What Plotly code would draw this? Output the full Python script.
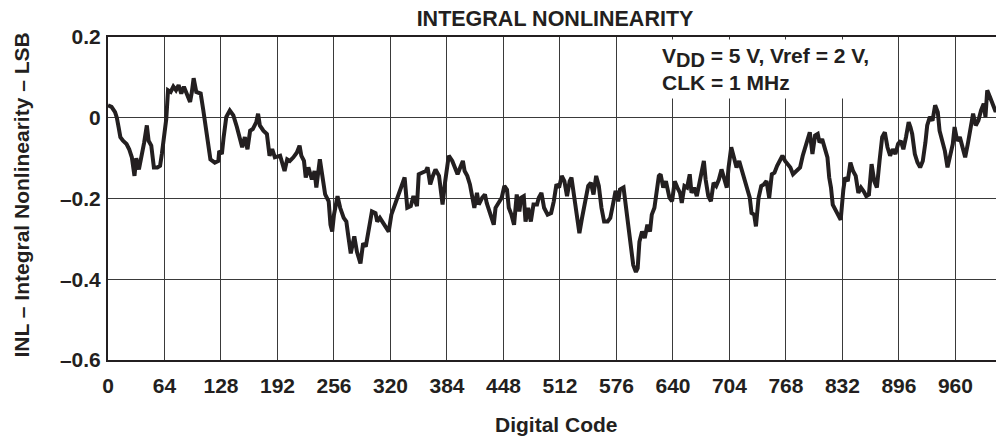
import plotly.graph_objects as go

# Digital code (x) and INL in LSB (y)
digital_code = [
    0, 4, 8, 10, 12, 14, 17, 21, 24, 27, 30, 32, 35, 38, 41, 44, 46, 49, 52, 56,
    59, 61, 64, 66, 68, 71, 74, 77, 80, 83, 86, 89, 93, 95, 97, 100, 105, 108, 111, 114,
    116, 121, 125, 126, 129, 131, 134, 138, 142, 146, 149, 152, 155, 158, 161, 164, 168, 170, 172, 176,
    180, 183, 186, 189,
    195, 198, 200, 203, 206, 210, 214, 217, 219, 222, 224, 227, 231, 234, 236, 240, 243, 246, 250, 252,
    254, 256, 260, 263, 267, 270, 272, 275, 279, 282, 286, 289, 292, 295, 299, 303, 305, 308, 313, 318,
    321, 325, 329, 333, 336, 339, 343, 346, 350, 352, 356, 360, 362, 365, 368, 371, 375, 377, 379, 382,
    386, 390,
    393, 396, 399, 402, 404, 407, 410, 412, 415, 418, 420, 424, 427, 429, 433, 437, 439, 442, 446, 449,
    452, 454, 457, 460, 463, 466, 468, 471, 473, 476, 479, 482, 486, 488, 491, 494, 498, 502, 505, 508,
    511, 514, 517, 520, 523, 525, 528, 531, 534, 537, 540, 544, 547, 550, 553, 556, 559, 562, 566, 569,
    572, 575, 578, 580, 584, 586, 589, 592,
    595, 598, 600, 602, 605, 608, 611, 614, 616, 619, 622, 624, 626, 629, 632, 636, 639, 642, 645, 648,
    650, 653, 656, 659, 661, 664, 667, 670, 673, 675, 677, 680, 683, 686, 689, 692, 695, 698, 701, 703,
    706, 709, 712, 715, 718, 721, 724, 727, 729, 732, 734, 737, 740, 743, 746, 749, 752, 755, 758, 761,
    764, 767, 770, 773, 776, 780, 784, 787, 790, 792, 795, 798,
    801, 804, 806, 809, 812, 815, 817, 819, 821, 824, 827, 830, 833, 835, 838, 841, 844, 847, 850, 853,
    856, 859, 862, 865, 868, 871, 874, 877, 880, 883, 886, 889, 892, 895, 898, 901, 904, 907, 909, 911,
    914, 917, 920, 923, 926, 928, 931, 934, 937, 940, 942, 945, 948, 951, 954, 957, 959, 962, 965, 968,
    971, 974, 977, 980, 983, 986, 989, 992, 994, 996, 999, 1002, 1005, 1008, 1011, 1014,
]
inl_lsb = [
    0.031, 0.027, 0.014, 0.0, -0.023, -0.048, -0.057, -0.065, -0.078, -0.098,
    -0.144, -0.100, -0.128, -0.098, -0.061, -0.019, -0.057, -0.069, -0.123, -0.123,
    -0.119, -0.090, -0.023, -0.003, 0.068, 0.064, 0.077, 0.068, 0.081, 0.060,
    0.077, 0.060, 0.039, 0.064, 0.098, 0.064, 0.060, 0.018, -0.023, -0.065,
    -0.103, -0.111, -0.107, -0.082, -0.090, -0.048, 0.002, 0.018, 0.006, -0.023,
    -0.044, -0.073, -0.048, -0.078, -0.032, -0.028, -0.011, 0.010, -0.019, -0.032,
    -0.040, -0.094, -0.078, -0.098,
    -0.094, -0.123, -0.132, -0.103, -0.107, -0.098, -0.086, -0.069, -0.094, -0.107,
    -0.148, -0.123, -0.153, -0.132, -0.173, -0.103, -0.144, -0.190, -0.207, -0.265,
    -0.282, -0.240, -0.194, -0.223, -0.248, -0.257, -0.290, -0.336, -0.294, -0.332,
    -0.361, -0.311, -0.319, -0.282, -0.232, -0.236, -0.257, -0.248, -0.265, -0.282,
    -0.240, -0.215, -0.194, -0.165, -0.148, -0.223, -0.219, -0.194, -0.219, -0.140,
    -0.136, -0.132, -0.123, -0.165, -0.144, -0.128, -0.144, -0.173, -0.215, -0.157,
    -0.094, -0.107,
    -0.123, -0.140, -0.123, -0.107, -0.132, -0.144, -0.165, -0.190, -0.223, -0.186,
    -0.215, -0.198, -0.190, -0.211, -0.240, -0.265, -0.223, -0.211, -0.198, -0.169,
    -0.178, -0.223, -0.240, -0.265, -0.190, -0.232, -0.198, -0.194, -0.257, -0.223,
    -0.257, -0.215, -0.215, -0.198, -0.186, -0.223, -0.240, -0.236, -0.207, -0.165,
    -0.173, -0.144, -0.157, -0.194, -0.157, -0.148, -0.190, -0.240, -0.286, -0.248,
    -0.215, -0.169, -0.161, -0.190, -0.144, -0.169, -0.223, -0.257, -0.257, -0.248,
    -0.215, -0.181, -0.207, -0.178, -0.173, -0.207, -0.265, -0.307,
    -0.365, -0.382, -0.373, -0.307, -0.282, -0.298, -0.265, -0.282, -0.240, -0.223,
    -0.181, -0.144, -0.140, -0.173, -0.157, -0.198, -0.207, -0.157, -0.173, -0.186,
    -0.211, -0.169, -0.173, -0.140, -0.186, -0.173, -0.194, -0.157, -0.132, -0.107,
    -0.153, -0.194, -0.207, -0.161, -0.169, -0.153, -0.128, -0.153, -0.173, -0.123,
    -0.073, -0.098, -0.123, -0.107, -0.132, -0.157, -0.173, -0.198, -0.236, -0.240,
    -0.269, -0.198, -0.169, -0.165, -0.157, -0.198, -0.140, -0.136, -0.119, -0.107,
    -0.094, -0.107, -0.115, -0.123, -0.140, -0.132, -0.123, -0.094, -0.069, -0.057,
    -0.036, -0.090,
    -0.044, -0.040, -0.061, -0.053, -0.073, -0.098, -0.148, -0.173, -0.215, -0.228,
    -0.236, -0.253, -0.178, -0.148, -0.157, -0.111, -0.132, -0.144, -0.186, -0.173,
    -0.182, -0.194, -0.190, -0.115, -0.157, -0.173, -0.107, -0.048, -0.036, -0.073,
    -0.094, -0.078, -0.090, -0.065, -0.057, -0.078, -0.048, -0.011, -0.023, -0.040,
    -0.090, -0.111, -0.123, -0.107, -0.061, -0.019, 0.002, -0.007, 0.031, 0.014,
    -0.032, -0.057, -0.082, -0.123, -0.098, -0.065, -0.023, -0.057, -0.048, -0.073,
    -0.098, -0.065, -0.032, 0.010, -0.019, -0.007, 0.018, 0.035, 0.002, 0.068,
    0.052, 0.035, 0.018, 0.018, 0.006, -0.007,
]

x_ticks = [0, 64, 128, 192, 256, 320, 384, 448, 512, 576, 640, 704, 768, 832, 896, 960]
x_tick_labels = [str(v) for v in x_ticks]
y_ticks = [-0.6, -0.4, -0.2, 0, 0.2]
y_tick_labels = ["\u20130.6", "\u20130.4", "\u20130.2", "0", "0.2"]

FONT = "Liberation Sans, Arial, Helvetica, sans-serif"
INK = "#231f20"
FS = 21

# The page body adds an 8 px offset; figure coords = reference coords - 8.
W, H = 996, 432
L, T = 100, 29
PLOT_W, PLOT_H = W - L, 323
B = H - T - PLOT_H


def px_x(ref_x):
    return (ref_x - 8 - L) / PLOT_W


def px_y(ref_y):
    return (T + PLOT_H - (ref_y - 8)) / PLOT_H


fig = go.Figure(
    go.Scatter(
        x=digital_code, y=inl_lsb, mode="lines",
        line=dict(color=INK, width=4), hoverinfo="skip",
    )
)

fig.update_layout(
    width=W, height=H,
    margin=dict(l=L, r=0, t=T, b=B),
    paper_bgcolor="white", plot_bgcolor="white",
    showlegend=False,
    font=dict(family=FONT, color=INK, size=FS, weight="bold"),
    title=dict(
        text="INTEGRAL NONLINEARITY",
        font=dict(family=FONT, size=21.5, color=INK, weight="bold"),
        x=(555 - 8) / W, xref="container", xanchor="center",
        y=1 - (18 - 8) / H, yref="container", yanchor="middle",
    ),
    xaxis=dict(
        range=[0, 1015], tickvals=x_ticks, ticktext=x_tick_labels,
        showgrid=True, gridcolor="#3a3a3a", gridwidth=1,
        showline=True, linecolor=INK, linewidth=2, mirror=True,
        zeroline=False, ticks="", ticklabelstandoff=6,
        tickfont=dict(family=FONT, size=FS, color=INK, weight="bold"),
    ),
    yaxis=dict(
        range=[-0.6, 0.2], tickvals=y_ticks, ticktext=y_tick_labels,
        showgrid=True, gridcolor="#3a3a3a", gridwidth=1,
        showline=True, linecolor=INK, linewidth=2,
        zeroline=False, ticks="", ticklabelstandoff=1,
        tickfont=dict(family=FONT, size=FS, color=INK, weight="bold"),
    ),
    annotations=[
        dict(
            text="INL \u2013 Integral Nonlinearity \u2013 LSB", textangle=-90,
            xref="paper", yref="paper", x=px_x(20.5), y=px_y(195),
            xanchor="center", yanchor="middle", showarrow=False,
            font=dict(family=FONT, size=FS, color=INK, weight="bold"),
        ),
        dict(
            text="Digital Code",
            xref="paper", yref="paper", x=px_x(556), y=px_y(424),
            xanchor="center", yanchor="middle", showarrow=False,
            font=dict(family=FONT, size=FS, color=INK, weight="bold"),
        ),
        dict(
            text='V<sub><span style="font-size:20px">DD</span></sub> = 5 V, Vref = 2 V,<br>CLK = 1 MHz',
            xref="paper", yref="paper", x=px_x(657), y=px_y(38.5),
            xanchor="left", yanchor="top", align="left", showarrow=False,
            bgcolor="white", borderpad=4,
            font=dict(family=FONT, size=FS, color=INK, weight="bold"),
        ),
    ],
)

fig.write_html("out.html")
